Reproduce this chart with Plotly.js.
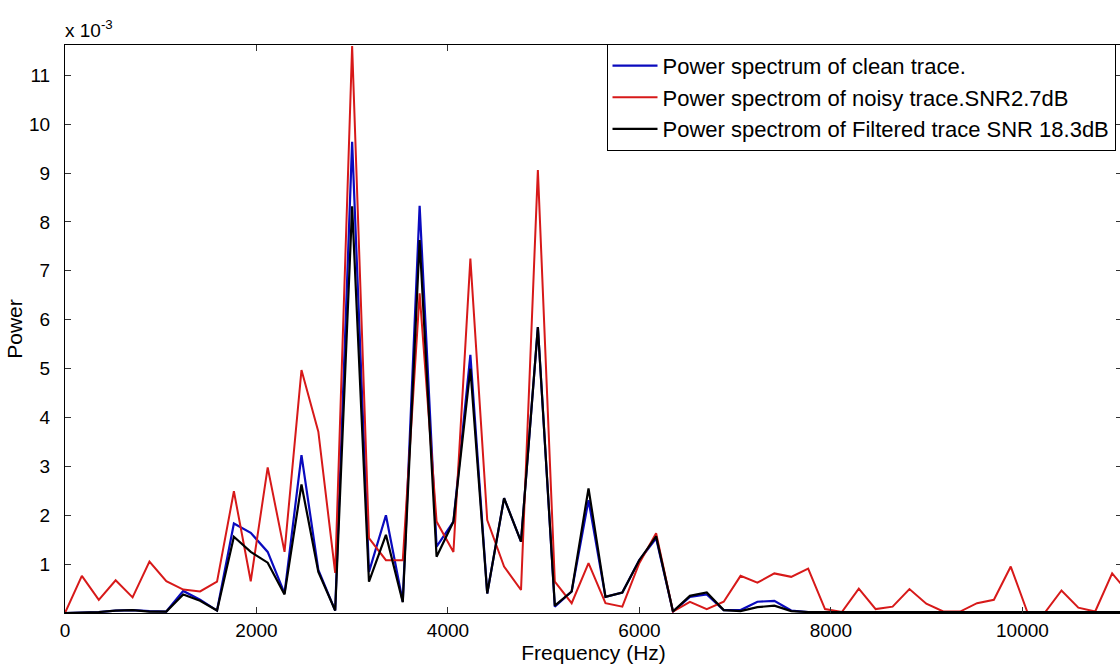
<!DOCTYPE html>
<html>
<head>
<meta charset="utf-8">
<script src="https://cdn.plot.ly/plotly-3.0.1.min.js"></script>
<style>html,body{margin:0;padding:0;background:#fff;overflow:hidden;}#chart{width:1122px;height:668px;}</style>
</head>
<body>
<div id="chart"></div>
<script>
// Frequency bins (Hz)
const frequency = [0,176,353,529,706,882,1058,1235,1411,1588,1764,1940,2117,2293,2470,2646,2822,2999,3175,3352,3528,3704,3881,4057,4234,4410,4586,4763,4939,5116,5292,5468,5645,5821,5998,6174,6350,6527,6703,6880,7056,7232,7409,7585,7762,7938,8114,8291,8467,8644,8820,8996,9173,9349,9526,9702,9878,10055,10231,10408,10584,10760,10937,11113];

// Power values in units of 10^-3
const cleanPower = [0,0.01,0.02,0.05,0.06,0.04,0.03,0.45,0.27,0.05,1.83,1.64,1.25,0.4,3.23,0.88,0.05,9.64,0.84,2.0,0.23,8.33,1.36,1.87,5.28,0.4,2.35,1.46,5.85,0.13,0.44,2.31,0.33,0.42,1.08,1.53,0.03,0.33,0.38,0.06,0.06,0.23,0.25,0.05,0.02,0.02,0.01,0.01,0.02,0.02,0.01,0.01,0.01,0.01,0.01,0.01,0.01,0.01,0.01,0.01,0.01,0.01,0.01,0.01];
const noisyPower = [0,0.76,0.27,0.67,0.32,1.05,0.65,0.48,0.44,0.64,2.49,0.65,2.98,1.25,4.97,3.71,0.82,11.6,1.53,1.08,1.08,6.54,1.87,1.25,7.25,1.9,0.95,0.47,9.06,0.64,0.2,1.02,0.2,0.13,1.02,1.63,0.03,0.23,0.08,0.23,0.76,0.62,0.81,0.74,0.91,0.08,0.02,0.5,0.08,0.13,0.49,0.19,0.03,0.03,0.2,0.27,0.95,0,0,0.46,0.11,0.03,0.81,0.4];
const filteredPower = [0,0.01,0.02,0.05,0.06,0.03,0.03,0.38,0.25,0.05,1.56,1.25,1.03,0.38,2.63,0.84,0.05,8.32,0.64,1.6,0.22,7.63,1.15,1.87,5.0,0.4,2.35,1.46,5.85,0.15,0.44,2.55,0.33,0.42,1.08,1.57,0.03,0.35,0.42,0.06,0.04,0.12,0.15,0.04,0.02,0.02,0.02,0.02,0.03,0.03,0.02,0.02,0.02,0.02,0.02,0.02,0.02,0.02,0.02,0.02,0.02,0.02,0.02,0.02];

const seriesNames = ["Power spectrum of clean trace.","Power spectrom of noisy trace.SNR2.7dB","Power spectrom of Filtered trace SNR 18.3dB"];
const xTicks = [0,2000,4000,6000,8000,10000];
const yTicks = [1,2,3,4,5,6,7,8,9,10,11];

const FONT = "Arial, 'Liberation Sans', sans-serif";

const traces = [
  {x: frequency, y: cleanPower, name: seriesNames[0], legendgroup: "a", mode: "lines", line: {color: "rgb(10,10,190)", width: 2.2}},
  {x: frequency, y: noisyPower, name: seriesNames[1], legendgroup: "b", mode: "lines", line: {color: "rgb(215,25,25)", width: 2}},
  {x: frequency, y: filteredPower, name: seriesNames[2], legendgroup: "c", mode: "lines", line: {color: "rgb(0,0,0)", width: 2.2}}
];

const layout = {
  width: 1122, height: 668,
  margin: {l: 65, r: 0, t: 45, b: 55},
  paper_bgcolor: "#fff", plot_bgcolor: "#fff",
  font: {family: FONT, color: "#000", size: 19},
  showlegend: true,
  legend: {
    x: 0.5123, y: 1.002, xanchor: "left", yanchor: "top",
    bgcolor: "#fff", bordercolor: "#000", borderwidth: 1,
    font: {family: FONT, size: 22, color: "#000"},
    traceorder: "grouped", tracegroupgap: 0, itemwidth: 45,
    entrywidthmode: "pixels", entrywidth: 520
  },
  xaxis: {
    range: [0, 11040], autorange: false,
    tickmode: "array", tickvals: xTicks, ticktext: xTicks.map(String),
    ticks: "inside", ticklen: 6, tickcolor: "#333", tickwidth: 1,
    showline: true, linecolor: "#000", linewidth: 1, mirror: "ticks",
    showgrid: false, zeroline: false,
    tickfont: {family: FONT, size: 19, color: "#000"},
    title: {text: "Frequency (Hz)", font: {family: FONT, size: 21, color: "#000"}, standoff: 4}
  },
  yaxis: {
    range: [0, 11.62], autorange: false,
    tickmode: "array", tickvals: yTicks, ticktext: yTicks.map(String),
    ticks: "inside", ticklen: 6, tickcolor: "#333", tickwidth: 1,
    showline: true, linecolor: "#000", linewidth: 1, mirror: "ticks",
    showgrid: false, zeroline: false,
    ticklabelstandoff: 10,
    tickfont: {family: FONT, size: 19, color: "#000"},
    title: {text: "Power", font: {family: FONT, size: 21, color: "#000"}, standoff: 0}
  },
  annotations: [{
    xref: "paper", yref: "paper", x: 0, y: 1, xanchor: "left", yanchor: "bottom",
    xshift: -2, yshift: 2,
    text: "x 10<sup>-3</sup>", showarrow: false,
    font: {family: FONT, size: 19, color: "#000"}
  }]
};

Plotly.newPlot("chart", traces, layout, {displayModeBar: false, staticPlot: true});
</script>
</body>
</html>
